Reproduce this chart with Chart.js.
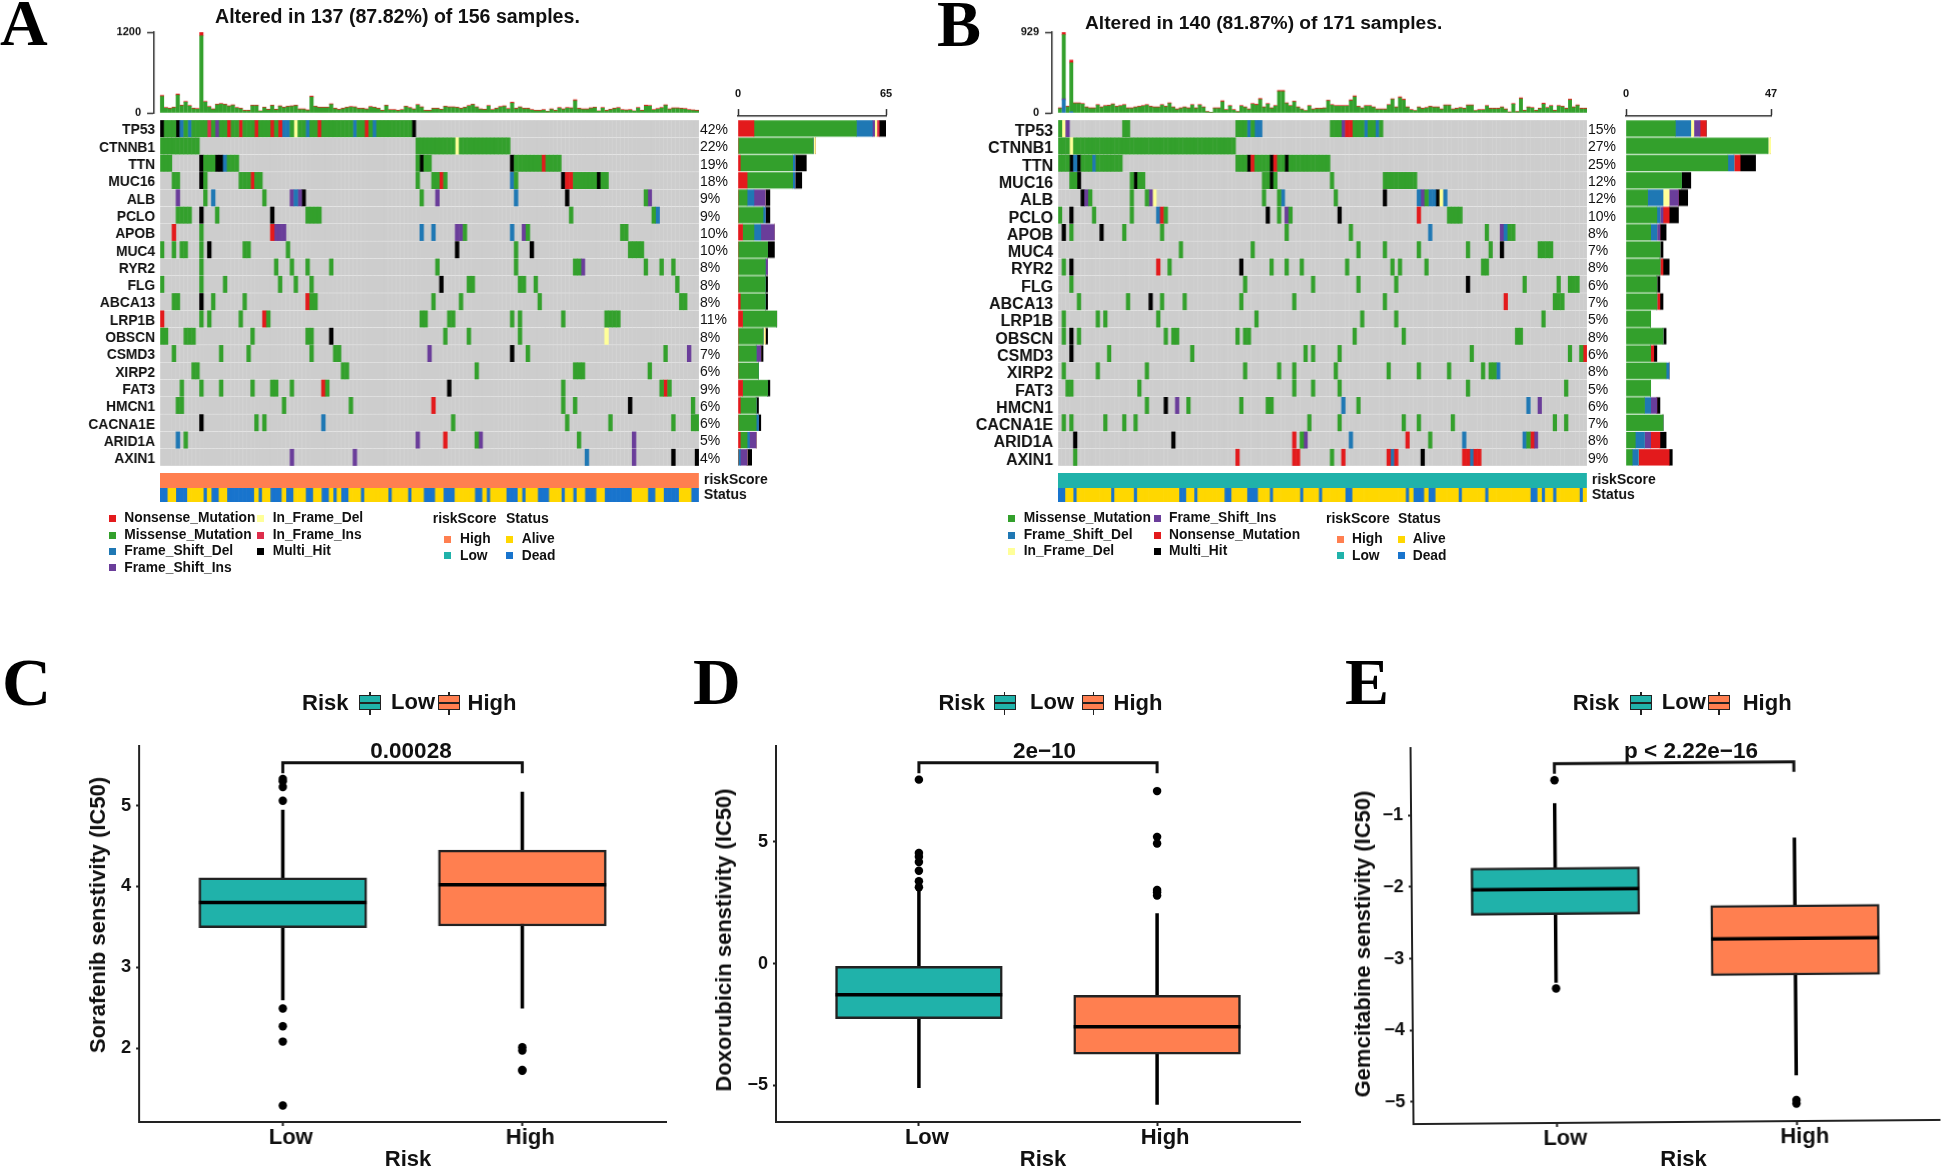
<!DOCTYPE html>
<html>
<head>
<meta charset="utf-8">
<title>Oncoplots and drug sensitivity</title>
<script src="https://cdn.jsdelivr.net/npm/chart.js@4/dist/chart.umd.js"></script>
<style>
  html, body { margin: 0; padding: 0; background: #fff; }
  #page { position: relative; width: 1944px; height: 1169px; overflow: hidden; background: #fff; }
  canvas { position: absolute; }
  .txt { position: absolute; white-space: pre; color: #111; font-family: "Liberation Sans", Arial, sans-serif; font-weight: bold; }
  .sq { position: absolute; width: 7px; height: 7px; }
  .keybox { position: absolute; box-sizing: border-box; border: 1.5px solid #222; }
  .keyline { position: absolute; background: #222; }
</style>
</head>
<body>
<div id="page"></div>
<script>
// ---- panel A / B oncoplot data ----
const genes = ['TP53','CTNNB1','TTN','MUC16','ALB','PCLO','APOB','MUC4','RYR2','FLG','ABCA13','LRP1B','OBSCN','CSMD3','XIRP2','FAT3','HMCN1','CACNA1E','ARID1A','AXIN1'];
const pctA = ['42%','22%','19%','18%','9%','9%','10%','10%','8%','8%','8%','11%','8%','7%','6%','9%','6%','6%','5%','4%'];
const pctB = ['15%','27%','25%','12%','12%','10%','8%','7%','8%','6%','7%','5%','8%','6%','8%','5%','6%','7%','8%','9%'];

// one string per gene: type letter + sample column(s)
const cellsA = [
  'X0 M1-3 X4 D5 M6 D7 M8-11 P12 M13 I14 M15-16 N17 M18-19 N20 M21-23 N24 M25-27 N28 M29 N30 D31-32 M33 Y34 M35-36 D37 M38-39 N40 M41-48 D49 M50-51 N52 M53 D54 M55-63 X64',
  'M0-9 M65-74 Y75 M76-88',
  'M0-2 X10 M11-13 X14-15 D16 M17-19 M65 X66 M67-68 X89 M90-96 N97 M98-101',
  'M3-4 X10 M11 M20-22 N23 M24-25 M65 M69-70 N71 M72 D89 M90 X102 N103-104 M105-110 X111 M112-113',
  'I4 M11 D13 M26 I33 D34 I35 X36 M66 I70 D90 X103 M123 I124',
  'M4-7 X10 M14 X28 M37-40 M104 M125 D126',
  'N3 M10 N28 I29-31 D66 D69 I75-76 M77 D89 I92 M93 M117-118',
  'M0 M3 M5-6 M10 X12 M21-22 M32 X75 M90 X94 M119-122',
  'M10 M29 M33 M37 M43 M70 M90 M105-106 I107 M123 M127 M130',
  'M0 M10 M16 M30 M34 M38 X71 M78-79 M91-92 M95 M131',
  'M3-4 X10 M13 M21 N37 M38-39 M69 M76 M96 M132-133',
  'N0 M10 M12 M20 N26 M27 M66-67 M73-74 M89 M91 M102 M113-116',
  'M0-1 M6-8 M23 M37-38 X43 M72 M78 M91 Y113',
  'M3 M15 M22 M38 M44-45 I68 X89 M93 M128 I134',
  'M8-9 M46-47 M80 M105-107 M124',
  'M5 M10 M15 M23 M28-29 M33 N41 M42 X73 M102 M127 N128 M129',
  'M4-5 M31 M48 N69 M102 M105 X119 M135',
  'X10 M24 M26 D41 M74 M103 M114 M130 M135-136',
  'D4 M6 I65 N72 M80 I81 M106 I120',
  'I33 I49 D108 I120 X130 X136'
];
const cellsB = [
  'M0 Y1 I2 M17-18 M47-49 D50 M51 D52-53 M72-74 I75 N76-77 M78-80 D81 M82-83 D84 M85',
  'M0-2 Y3 M4-46',
  'M0-2 X3 D4 X5 M6-8 D9 M10-16 M47-49 X50 N51 M52-55 X56 N57 M58-59 X60 M61-71',
  'M3-4 X5 M19 X20 M21-22 M54-55 X56 M57 M72 M86-94',
  'X6 I7 M8 M19 M23 I24 Y25 M54 M58 D59 M73 X86 D95 I96 M97 D98-99 X100 Y101 D102',
  'M0 X3 M9 M19 D26 N27 M28 X55 M58 I60 M61 X74 N95 M103-106',
  'X1 M3 X11 M17 M27 M60 M77 D98 M113 I117 D118 M119-120',
  'M32 M51 M79 M86 M95 M108 M114 X117 M127-130',
  'M1 X3 N26 M29 X48 M56 M60 M64 M76 M88 M90 M97 M112-113',
  'M3 M49 M67 M79 M89 X108 M123 M132 M135-137',
  'M5 M18 X24 M27 M33 M48 M62 M86 N118 M131-133',
  'M1 M10 M12 M26 M52 M80 M89 M128',
  'M1 X3 M5 M28 M30-31 M47 M49-50 M78 M91 M121-122',
  'X3 M13 M35 M65 M67 M74 M109 M135 M138 N139',
  'M1 M10 M23 M49 M58 M62 M73 M87 M95 M103 M112 M114-115 D116',
  'M2-3 M21 M62 M67 M74 M108 M134',
  'M23 X28 I31 M34 M48 M55-56 D75 M79 D124 I127',
  'M1 M3 M12 M17 M20 M66 M74 M91 M95 M104 M131 M134',
  'X4 X30 N62 M64 I65 D77 N92 M98 D107 D123 M124 N125 I126',
  'M4 N47 N62-63 M72 N75 N87 D88 N89 X96 N107-108 D109 N110-111'
];

// sample mutation load, top bars
const loadMissA = [245,70,60,75,265,105,160,100,60,55,1145,160,85,50,120,130,120,95,110,70,60,30,30,105,105,25,75,45,105,45,95,75,90,95,105,50,50,35,235,90,75,75,75,125,60,45,60,75,85,80,60,60,50,85,75,60,30,105,40,40,30,40,90,70,50,115,80,30,30,60,60,45,90,80,80,75,60,75,100,120,80,50,45,100,40,60,85,95,55,145,60,80,60,60,40,30,30,40,20,50,30,70,50,70,65,180,60,50,50,65,75,25,70,30,45,60,70,40,35,40,25,70,30,100,100,40,55,70,110,50,65,65,60,55,40,35,30];
const loadNonA = [15,10,10,10,15,10,10,10,10,10,65,10,10,10,10,10,10,10,10,10,10,10,10,10,10,5,10,10,10,10,10,10,10,10,10,10,10,10,15,10,10,10,10,10,10,10,10,10,10,10,10,10,10,10,10,10,10,10,10,10,10,10,10,10,10,10,10,10,10,10,10,10,10,10,10,10,10,10,10,10,10,10,10,10,10,10,10,10,10,15,10,10,10,10,10,10,10,10,5,10,10,10,10,10,10,15,10,10,10,10,10,5,10,10,10,10,10,10,10,10,5,10,10,15,10,10,10,10,10,10,10,10,10,10,10,10,10];
const loadMissB = [50,737,69,562,108,108,100,61,50,50,88,61,77,81,96,69,77,88,50,50,61,69,77,88,69,61,61,88,69,108,61,38,50,61,50,88,50,88,61,12,4,50,50,127,31,77,31,12,77,61,38,100,88,154,61,100,50,77,246,246,108,77,127,61,38,23,77,38,46,46,50,138,88,77,77,77,77,138,184,69,50,77,77,61,38,38,38,88,154,61,173,146,61,31,23,61,46,54,69,61,61,38,84,84,38,46,54,46,84,84,23,31,31,77,46,46,46,61,38,8,100,12,161,23,61,54,23,46,100,54,77,23,77,69,46,146,61,84,46,46];
const loadNonB = [8,30,8,30,8,8,8,8,8,8,8,8,8,8,8,8,8,8,8,8,8,8,8,8,8,8,8,8,8,8,8,8,8,8,8,8,8,8,8,4,4,8,8,12,8,8,8,4,8,8,8,8,12,12,8,8,8,8,12,12,8,8,8,8,8,4,8,8,8,8,8,8,8,8,8,8,8,12,12,8,8,8,8,8,8,8,8,8,8,8,12,12,8,8,4,8,8,8,8,8,8,8,8,8,8,8,8,8,8,8,4,8,8,8,8,8,8,8,8,4,8,4,12,8,8,8,8,8,12,8,8,8,8,8,8,12,8,8,8,8];
const loadDelB = {1: 150, 3: 15};
const loadInsB = {1: 12};

// right-hand gene totals by mutation type
const sideNonA = [7,0,1,4,0,0,2,0,0,0,1,2,0,0,0,2,1,0,1,0];
const sideMisA = [45,33,23,20,4,11,5,13,12,12,11,15,11,8,9,11,7,8,3,0];
const sideDelA = [7,0,1,1,3,1,3,0,0,0,0,0,0,0,0,0,0,1,1,1];
const sideInsA = [1,0,0,0,5,0,6,0,1,0,0,0,0,2,0,0,0,0,3,3];
const sideIfdA = [1,1,0,0,0,0,0,0,0,0,0,0,1,0,0,0,0,0,0,0];
const sideIfiA = [1,0,0,0,0,0,0,0,0,0,0,0,0,0,0,0,0,0,0,0];
const sideMulA = [3,0,5,3,2,2,0,3,0,1,1,0,1,1,0,1,1,1,0,2];
const sideMisB = [16,46,33,18,7,10,8,11,11,10,10,8,12,8,13,8,6,12,3,2];
const sideDelB = [5,0,2,0,5,1,2,0,0,0,0,0,0,0,1,0,2,0,3,2];
const sideIfdB = [1,1,0,0,2,0,0,0,0,0,0,0,0,0,0,0,0,0,0,0];
const sideInsB = [2,0,0,0,3,1,1,0,0,0,0,0,0,0,0,0,2,0,2,0];
const sideNonB = [2,0,2,0,0,2,0,0,1,0,1,0,0,1,0,0,0,0,3,10];
const sideMulB = [0,0,5,3,3,3,2,1,2,1,1,0,1,1,0,0,1,0,2,1];

// sample columns with Dead status, everything else is Alive
const deadA = [0,1,4,5,6,11,13,14,17,18,19,20,21,22,23,25,28,29,30,32,33,37,38,41,42,44,46,47,51,58,63,67,68,69,72,73,74,80,81,83,88,89,90,92,96,97,98,102,105,108,109,110,113,114,115,116,117,118,119,124,125,128,129,130,131,135,136];
const deadB = [0,1,4,14,20,32,33,36,44,45,50,51,52,56,64,69,76,77,92,94,95,96,98,99,106,113,125,126,128,131,138];

// ---- panels C / D / E, [whisker low, q1, median, q3, whisker high] ----
const riskGroups = ['Low','High'];
const statsLowC = [2.59,3.49,3.80,4.106,4.95];
const statsHighC = [2.49,3.51,4.02,4.45,5.17];
const outliersLowC = [5.33,5.3,5.23,5.06,2.49,2.27,2.08,1.29];
const outliersHighC = [2.01,1.97,1.73,1.72];
const bracketC = [5.40,5.53];
const yRangeC = [1.085,5.74];
const yTicksC = [2,3,4,5];

const statsLowD = [-5.10,-2.26,-1.27,-0.11,3.07];
const statsHighD = [-5.79,-3.71,-2.59,-1.30,2.07];
const outliersLowD = [7.56,4.55,4.39,4.18,3.82,3.39,3.14];
const outliersHighD = [7.09,5.21,4.94,3.03,2.94,2.80];
const bracketD = [7.82,8.25];
const yRangeD = [-6.5,8.95];
const yTicksD = [-5,0,5];

const statsLowE = [-3.35,-2.40,-2.047,-1.743,-0.845];
const statsHighE = [-4.67,-3.27,-2.757,-2.29,-1.35];
const outliersLowE = [-0.525,-3.43];
const outliersHighE = [-5.015,-5.065];
const bracketE = [-0.435,-0.295];
const yRangeE = [-5.308,-0.058];
const yTicksE = [-5,-4,-3,-2,-1];

// ---- colours ----
const MUT = { M:'#33A02C', N:'#E31A1C', D:'#1F78B4', I:'#6A3D9A', Y:'#FFFF99', P:'#DE2D4B', X:'#000000' };
const GREY = '#CDCDCD';
const TEAL = '#20B2AA';
const CORAL = '#FF7F50';
const ALIVE = '#FFD700';
const DEAD = '#1874CD';

Chart.defaults.font.family = '"Liberation Sans", Arial, sans-serif';
Chart.defaults.color = '#111';
Chart.defaults.animation = false;
Chart.defaults.responsive = false;
Chart.defaults.devicePixelRatio = 1;
Chart.defaults.plugins.legend.display = false;
Chart.defaults.plugins.tooltip.enabled = false;

const page = document.getElementById('page');

function addChart(parent, left, top, width, height, config) {
  const c = document.createElement('canvas');
  c.width = width;
  c.height = height;
  c.style.left = left + 'px';
  c.style.top = top + 'px';
  c.style.width = width + 'px';
  c.style.height = height + 'px';
  parent.appendChild(c);
  return new Chart(c, config);
}

function text(str, x, y, size, opts) {
  opts = opts || {};
  const d = document.createElement('div');
  d.className = 'txt';
  d.textContent = str;
  d.style.left = x + 'px';
  d.style.top = y + 'px';
  d.style.fontSize = size + 'px';
  d.style.lineHeight = '1';
  if (opts.serif) d.style.fontFamily = '"Liberation Serif", "Times New Roman", serif';
  if (opts.color) d.style.color = opts.color;
  let t = opts.center ? 'translate(-50%,-50%)' : 'translate(0,-50%)';
  if (opts.rotate) t += ' rotate(' + opts.rotate + 'deg)';
  d.style.transform = t;
  page.appendChild(d);
}

function square(x, y, color) {
  const d = document.createElement('div');
  d.className = 'sq';
  d.style.left = x + 'px';
  d.style.top = (y - 3.5) + 'px';
  d.style.background = color;
  page.appendChild(d);
}

function parseCells(row) {
  const out = {};
  row.split(' ').forEach((tok) => {
    const type = tok[0];
    const parts = tok.slice(1).split('-').map(Number);
    const end = parts.length > 1 ? parts[1] : parts[0];
    out[type] = out[type] || [];
    for (let c = parts[0]; c <= end; c++) out[type].push(c);
  });
  return out;
}

function oncoMatrix(p) {
  const mut = { M:[], N:[], D:[], I:[], Y:[], P:[], X:[] };
  const bg = [];
  p.cells.forEach((row, i) => {
    for (let c = 0; c < p.n; c++) bg.push({ x:[c + 0.05, c + 0.95], y:genes[i] });
    const parsed = parseCells(row);
    Object.keys(parsed).forEach((t) => {
      parsed[t].forEach((c) => mut[t].push({ x:[c + 0.03, c + 0.97], y:genes[i] }));
    });
  });
  const datasets = Object.keys(mut).map((t) => ({ label:t, data:mut[t], backgroundColor:MUT[t], order:0 }));
  datasets.push({ label:'none', data:bg, backgroundColor:GREY, order:1 });
  const wl = 120, wr = 50;
  addChart(page, p.l - wl, p.t - 20, p.r - p.l + wl + wr, p.b - p.t + 40, {
    type:'bar',
    data:{ datasets },
    options:{
      indexAxis:'y',
      layout:{ padding:{ top:20, bottom:20, left:0, right:0 } },
      datasets:{ bar:{ grouped:false, barThickness:16.3 } },
      scales:{
        x:{ type:'linear', min:0, max:p.n, display:false },
        y:{
          type:'category', labels:genes, offset:true, position:'left',
          afterFit:(s) => { s.width = wl; },
          grid:{ display:false, drawTicks:false }, border:{ display:false },
          ticks:{ font:{ size:p.geneSize, weight:'bold' }, padding:p.genePad, labelOffset:p.geneShift, autoSkip:false, color:'#111' }
        },
        yr:{
          type:'category', labels:p.pct, offset:true, position:'right',
          afterFit:(s) => { s.width = wr; },
          grid:{ display:false, drawTicks:false }, border:{ display:false },
          ticks:{ font:{ size:14 }, padding:1, labelOffset:1.5, autoSkip:false, color:'#111' }
        }
      }
    }
  });
}

function oncoTop(p) {
  const n = p.loadMiss.length;
  const step = (p.r - p.l) / p.n;
  const minX = -(p.l - p.topAxisX) / step;
  const pts = (arr) => arr.map((v, i) => ({ x:i + 0.5, y:v }));
  const datasets = [];
  if (p.loadDel) {
    datasets.push({ data:Object.keys(p.loadDel).map((k) => ({ x:+k + 0.5, y:p.loadDel[k] })), backgroundColor:MUT.D });
    datasets.push({ data:Object.keys(p.loadIns).map((k) => ({ x:+k + 0.5, y:p.loadIns[k] })), backgroundColor:MUT.I });
  }
  datasets.push({ data:pts(p.loadMiss), backgroundColor:MUT.M });
  datasets.push({ data:pts(p.loadNon), backgroundColor:MUT.N });
  const w = 44, padV = 16;
  addChart(page, p.topAxisX - w, 32.3 - padV, p.r - p.topAxisX + w + 2, 113 - 32.3 + 2 * padV, {
    type:'bar',
    data:{ datasets },
    options:{
      layout:{ padding:{ top:padV, bottom:padV, left:0, right:2 } },
      datasets:{ bar:{ barThickness:step - 0.55 } },
      scales:{
        x:{ type:'linear', stacked:true, offset:false, grid:{ offset:false }, min:minX, max:n, display:false },
        y:{
          type:'linear', stacked:true, min:0, max:p.topMax,
          afterFit:(s) => { s.width = w; },
          afterBuildTicks:(s) => { s.ticks = [0, p.topMax].map((v) => ({ value:v })); },
          grid:{ drawOnChartArea:false, tickLength:7, color:'#333', tickWidth:1.5 },
          border:{ color:'#333', width:1.5 },
          ticks:{ font:{ size:11, weight:'bold' }, padding:6, autoSkip:false, color:'#111', callback:(v) => String(v) }
        }
      }
    }
  });
}

function oncoSide(p) {
  const band = (p.b - p.t) / 20;
  const axisY = 116.3;
  const datasets = p.side.map((s) => ({
    data:s.values.map((v, i) => ({ x:v, y:i + 0.5 })),
    backgroundColor:s.color
  }));
  const padX = 20, topH = 30;
  addChart(page, p.sl - padX, axisY - topH, p.sr - p.sl + 2 * padX, p.b - axisY + topH + 2, {
    type:'bar',
    data:{ datasets },
    options:{
      indexAxis:'y',
      layout:{ padding:{ top:0, bottom:2, left:padX, right:padX } },
      datasets:{ bar:{ barThickness:band - 1.6 } },
      scales:{
        x:{
          type:'linear', stacked:true, position:'top', min:0, max:p.sideMax,
          afterFit:(s) => { s.height = topH; },
          afterBuildTicks:(s) => { s.ticks = [0, p.sideMax].map((v) => ({ value:v })); },
          grid:{ drawOnChartArea:false, tickLength:7, color:'#333', tickWidth:1.5 },
          border:{ color:'#333', width:1.5 },
          ticks:{ font:{ size:11, weight:'bold' }, padding:8, autoSkip:false, maxRotation:0, color:'#111', callback:(v) => String(v) }
        },
        y:{ type:'linear', stacked:true, offset:false, grid:{ offset:false }, reverse:true, min:-(p.t - axisY) / band, max:20, display:false }
      }
    }
  });
}

function oncoAnno(p) {
  const alive = [], dead = [];
  for (let c = 0; c < p.n; c++) {
    (p.dead.includes(c) ? dead : alive).push({ x:[c, c + 1], y:'Status' });
  }
  const h = 14.65;
  addChart(page, p.l, 472.7 - 20, p.r - p.l + 90, 2 * h + 40, {
    type:'bar',
    data:{
      datasets:[
        { data:[{ x:[0, p.n], y:'riskScore' }], backgroundColor:p.riskColor },
        { data:alive, backgroundColor:ALIVE },
        { data:dead, backgroundColor:DEAD }
      ]
    },
    options:{
      indexAxis:'y',
      layout:{ padding:{ top:20, bottom:20, left:0, right:0 } },
      datasets:{ bar:{ grouped:false, barThickness:h } },
      scales:{
        x:{ type:'linear', min:0, max:p.n, display:false },
        y:{
          type:'category', labels:['riskScore','Status'], offset:true, position:'right',
          afterFit:(s) => { s.width = 90; },
          grid:{ display:false, drawTicks:false }, border:{ display:false },
          ticks:{ font:{ size:14, weight:'bold' }, padding:5, autoSkip:false, color:'#111' }
        }
      }
    }
  });
}

function boxChart(p) {
  const [lo, hi] = [p.statsLow, p.statsHigh];
  const wl = 50, wb = 32;
  const wr = p.rightPad;
  const boxW = (p.r - p.l) / 2.2 * 0.7;
  const vline = (x, s) => ({ type:'line', data:[{ x, y:s[0] }, { x, y:s[4] }], borderColor:'#000', borderWidth:3.5, pointRadius:0, order:4 });
  const mline = (x, s) => ({ type:'line', data:[{ x:x - 0.35, y:s[2] }, { x:x + 0.35, y:s[2] }], borderColor:'#000', borderWidth:3.5, pointRadius:0, order:2 });
  const dots = (x, arr) => ({ type:'scatter', data:arr.map((y) => ({ x, y })), backgroundColor:'#000', pointRadius:4.2, order:1 });
  const datasets = [
    vline(1, lo), vline(2, hi),
    { type:'bar', data:[{ x:1, y:[lo[1], lo[3]] }, { x:2, y:[hi[1], hi[3]] }], backgroundColor:[TEAL, CORAL],
      borderColor:'#222', borderWidth:2.5, borderSkipped:false, barThickness:boxW, order:3 },
    mline(1, lo), mline(2, hi),
    dots(1, p.outLow), dots(2, p.outHigh),
    { type:'line', data:[{ x:1, y:p.bracket[0] }, { x:1, y:p.bracket[1] }, { x:2, y:p.bracket[1] }, { x:2, y:p.bracket[0] }],
      borderColor:'#111', borderWidth:3, pointRadius:0, order:1 }
  ];
  let parent = page;
  if (p.tilt) {
    parent = document.createElement('div');
    parent.style.cssText = 'position:absolute;left:0;top:0;width:1944px;height:1169px;transform-origin:' + p.tiltX + 'px 933px;transform:rotate(' + p.tilt + 'deg);';
    page.appendChild(parent);
  }
  addChart(parent, p.l - wl, p.t - 15, p.r - p.l + wl + wr, p.b - p.t + 15 + wb, {
    type:'bar',
    data:{ datasets },
    options:{
      layout:{ padding:{ top:15, bottom:0, left:0, right:wr } },
      scales:{
        x:{
          type:'linear', offset:false, min:0.4, max:2.6,
          afterFit:(s) => { s.height = wb; },
          afterBuildTicks:(s) => { s.ticks = [1, 2].map((v) => ({ value:v })); },
          grid:{ offset:false, drawOnChartArea:false, tickLength:4, color:'#222', tickWidth:2 },
          border:{ color:'#222', width:2 },
          ticks:{
            font:{ size:22, weight:'bold', lineHeight:1 }, padding:1, labelOffset:8, autoSkip:false, maxRotation:0, color:'#111',
            callback:(v) => riskGroups[v - 1]
          }
        },
        y:{
          type:'linear', min:p.yRange[0], max:p.yRange[1],
          afterFit:(s) => { s.width = wl; },
          afterBuildTicks:(s) => { s.ticks = p.yTicks.map((v) => ({ value:v })); },
          grid:{ drawOnChartArea:false, tickLength:3, color:'#222', tickWidth:2 },
          border:{ color:'#222', width:2 },
          ticks:{
            font:{ size:18, weight:'bold' }, padding:5, autoSkip:false, color:'#111',
            callback:(v) => (v < 0 ? '\u2212' + Math.abs(v) : String(v))
          }
        }
      }
    }
  });
  // texts around the plot
  text(p.title, p.titleX, p.titleY, 22, { center:true, rotate:-90 });
  text('Risk', p.xTitleX, 1159, 22, { center:true });
  text(p.pLabel, p.pX, 750.5, 22.5, { center:true });
  const ly = 702.5;
  text('Risk', p.legend[0], ly, 22, {});
  riskKey(p.legend[1], p.legend[1] + 22, TEAL);
  text('Low', p.legend[2], ly - 1, 22, {});
  riskKey(p.legend[3], p.legend[3] + 22, CORAL);
  text('High', p.legend[4], ly, 22, {});
}

function riskKey(x0, x1, color) {
  const mid = (x0 + x1) / 2;
  const wh = document.createElement('div');
  wh.className = 'keyline';
  wh.style.cssText = 'left:' + (mid - 0.75) + 'px;top:691.5px;width:1.5px;height:23px;';
  page.appendChild(wh);
  const b = document.createElement('div');
  b.className = 'keybox';
  b.style.cssText = 'left:' + x0 + 'px;top:695px;width:' + (x1 - x0) + 'px;height:15px;background:' + color + ';';
  page.appendChild(b);
  const m = document.createElement('div');
  m.className = 'keyline';
  m.style.cssText = 'left:' + x0 + 'px;top:701.5px;width:' + (x1 - x0) + 'px;height:2px;';
  page.appendChild(m);
}

// ---- build ----
const panelA = {
  l:160, r:698.7, t:120, b:466, n:137, cells:cellsA, pct:pctA, geneSize:13.8, genePad:5, geneShift:2,
  topAxisX:154, topMax:1200, loadMiss:loadMissA, loadNon:loadNonA,
  sl:738.3, sr:886.3, sideMax:65,
  side:[
    { values:sideNonA, color:MUT.N }, { values:sideMisA, color:MUT.M }, { values:sideDelA, color:MUT.D },
    { values:sideInsA, color:MUT.I }, { values:sideIfdA, color:MUT.Y }, { values:sideIfiA, color:MUT.P },
    { values:sideMulA, color:MUT.X }
  ],
  dead:deadA, riskColor:CORAL
};
const panelB = {
  l:1058.3, r:1586.7, t:120, b:466, n:140, cells:cellsB, pct:pctB, geneSize:16, genePad:5, geneShift:3,
  topAxisX:1052.3, topMax:929, loadMiss:loadMissB, loadNon:loadNonB, loadDel:loadDelB, loadIns:loadInsB,
  sl:1625.7, sr:1770.7, sideMax:47,
  side:[
    { values:sideMisB, color:MUT.M }, { values:sideDelB, color:MUT.D }, { values:sideIfdB, color:MUT.Y },
    { values:sideInsB, color:MUT.I }, { values:sideNonB, color:MUT.N }, { values:sideMulB, color:MUT.X }
  ],
  dead:deadB, riskColor:TEAL
};
[panelA, panelB].forEach((p) => {
  oncoTop(p);
  oncoMatrix(p);
  oncoSide(p);
  oncoAnno(p);
});

// panel letters and titles
text('A', 0, 23, 66, { serif:true, color:'#000' });
text('B', 937, 24, 66, { serif:true, color:'#000' });
text('C', 2, 682, 68, { serif:true, color:'#000' });
text('D', 693, 682, 66, { serif:true, color:'#000' });
text('E', 1345, 682, 66, { serif:true, color:'#000' });
text('Altered in 137 (87.82%) of 156 samples.', 215, 17, 19.6);
text('Altered in 140 (81.87%) of 171 samples.', 1085, 23, 19.2);

// oncoplot legends
[['Nonsense_Mutation', MUT.N, 109, 124.3, 518], ['Missense_Mutation', MUT.M, 109, 124.3, 535],
 ['Frame_Shift_Del', MUT.D, 109, 124.3, 551], ['Frame_Shift_Ins', MUT.I, 109, 124.3, 567.5],
 ['In_Frame_Del', MUT.Y, 257, 272.7, 518], ['In_Frame_Ins', MUT.P, 257, 272.7, 535], ['Multi_Hit', MUT.X, 257, 272.7, 551],
 ['Missense_Mutation', MUT.M, 1008, 1023.7, 518], ['Frame_Shift_Del', MUT.D, 1008, 1023.7, 535], ['In_Frame_Del', MUT.Y, 1008, 1023.7, 551],
 ['Frame_Shift_Ins', MUT.I, 1154, 1169, 518], ['Nonsense_Mutation', MUT.N, 1154, 1169, 535], ['Multi_Hit', MUT.X, 1154, 1169, 551],
 ['High', CORAL, 444, 460, 539], ['Low', TEAL, 444, 460, 555.5], ['Alive', ALIVE, 506, 521.7, 539], ['Dead', DEAD, 506, 521.7, 555.5],
 ['High', CORAL, 1337, 1352, 539], ['Low', TEAL, 1337, 1352, 555.5], ['Alive', ALIVE, 1398, 1412.7, 539], ['Dead', DEAD, 1398, 1412.7, 555.5]
].forEach((it) => {
  square(it[2], it[4], it[1]);
  text(it[0], it[3], it[4], 13.8);
});
text('riskScore', 432.7, 518, 14);
text('Status', 506, 518, 14);
text('riskScore', 1326, 518, 14);
text('Status', 1398, 518, 14);

boxChart({
  l:139, r:665.7, t:744.6, b:1122.5, rightPad:8, statsLow:statsLowC, statsHigh:statsHighC, outLow:outliersLowC, outHigh:outliersHighC,
  bracket:bracketC, yRange:yRangeC, yTicks:yTicksC, title:'Sorafenib senstivity (IC50)', titleX:97.6, titleY:915, xTitleX:408, pLabel:'0.00028', pX:411,
  legend:[302, 359, 391, 438, 467.5]
});
boxChart({
  l:775.5, r:1299.6, t:744.6, b:1122.5, rightPad:8, statsLow:statsLowD, statsHigh:statsHighD, outLow:outliersLowD, outHigh:outliersHighD,
  bracket:bracketD, yRange:yRangeD, yTicks:yTicksD, title:'Doxorubicin senstivity (IC50)', titleX:723.7, titleY:940, xTitleX:1043, pLabel:'2e\u221210', pX:1044.5,
  legend:[938.4, 993.5, 1030, 1082.4, 1113.5]
});
boxChart({
  l:1411.5, r:1941, t:744.5, b:1122.3, rightPad:3, statsLow:statsLowE, statsHigh:statsHighE, outLow:outliersLowE, outHigh:outliersHighE,
  bracket:bracketE, yRange:yRangeE, yTicks:yTicksE, title:'Gemcitabine senstivity (IC50)', titleX:1363.4, titleY:943.7, xTitleX:1683.6, pLabel:'p < 2.22e\u221216', pX:1691,
  legend:[1572.8, 1630, 1661.8, 1708, 1742.7], tilt:-0.45, tiltX:1677
});
</script>
</body>
</html>
